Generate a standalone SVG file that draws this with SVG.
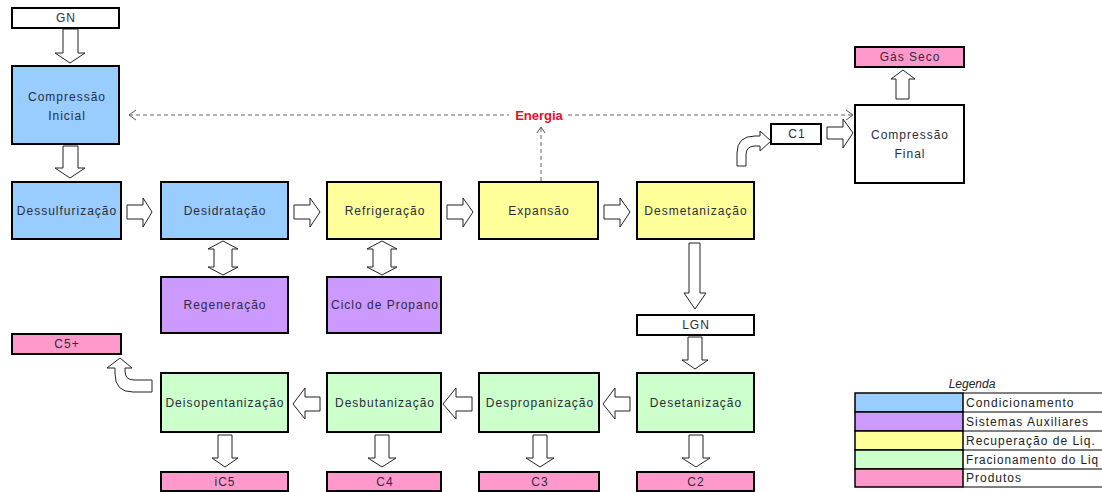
<svg xmlns="http://www.w3.org/2000/svg" width="1102" height="492" viewBox="0 0 1102 492">
<defs>
<style>
.box{stroke:#000;stroke-width:2}
.b{fill:#99CCFF}.p{fill:#CC99FF}.y{fill:#FFFF99}.g{fill:#CCFFCC}.k{fill:#FF99CC}.w{fill:#FFFFFF}
.t{font-family:"Liberation Sans",Arial,sans-serif;font-size:12px;letter-spacing:1px;fill:#2a2d3a;text-anchor:middle}
.lt{font-family:"Liberation Sans",Arial,sans-serif;font-size:12px;letter-spacing:1px;fill:#222}
.ar{fill:#fff;stroke:#222;stroke-width:1;stroke-linejoin:miter}
.dash{fill:none;stroke:#666;stroke-width:1;stroke-dasharray:4 3}
.chev{fill:none;stroke:#555;stroke-width:1}
</style>
</defs>
<rect width="1102" height="492" fill="#fff"/>

<g id="connectors">
  <path class="ar" d="M63,29 H78 V53 H85 L70,63 L55,53 H63 Z"/>
  <path class="ar" d="M63,146 H78 V168 H85 L70,178 L55,168 H63 Z"/>
  <path class="ar" d="M127,205 H143 V198 L152,212 L143,227 V219 H127 Z"/>
  <path class="ar" d="M294,205 H310 V198 L320,212 L310,227 V219 H294 Z"/>
  <path class="ar" d="M447,205 H463 V198 L473,212 L463,227 V219 H447 Z"/>
  <path class="ar" d="M604,205 H620 V198 L630,212 L620,227 V219 H604 Z"/>
  <path class="ar" d="M223,241 L238,249 H232 V267 H238 L223,275 L208,267 H214 V249 H208 Z"/>
  <path class="ar" d="M382,241 L397,249 H391 V267 H397 L382,275 L367,267 H373 V249 H367 Z"/>
  <path class="ar" d="M689,243 H700 V293 H706 L695,309 L684,293 H689 Z"/>
  <path class="ar" d="M688,337 H702 V360 H708 L695,369 L682,360 H688 Z"/>
  <path class="ar" d="M630,397 H615 V388 L603,404 L615,419 V411 H630 Z"/>
  <path class="ar" d="M472,397 H456 V388 L443,404 L456,419 V411 H472 Z"/>
  <path class="ar" d="M320,397 H305 V388 L293,404 L305,419 V411 H320 Z"/>
  <path class="ar" d="M218,435 H232 V458 H238 L225,467 L212,458 H218 Z"/>
  <path class="ar" d="M375,435 H389 V458 H396 L382,467 L368,458 H375 Z"/>
  <path class="ar" d="M533,435 H547 V458 H554 L540,467 L526,458 H533 Z"/>
  <path class="ar" d="M689,435 H703 V458 H710 L696,467 L682,458 H689 Z"/>
  <path class="ar" d="M152,380 H134 Q125,380 125,371 V368 H132 L120,358 L107,368 H115 V374 Q115,392 133,392 H152 Z"/>
  <path class="ar" d="M737,166 V153 Q737,136 755,136 H760 V131 L771,141 L760,151 V146 H755 Q746,146 746,155 V166 Z"/>
  <path class="ar" d="M827,127 H843 V119 L853,133 L843,148 V139 H827 Z"/>
  <path class="ar" d="M896,99 V79 H891 L903,70 L915,79 H909 V99 Z"/>
  <path class="dash" d="M129,115 H509 M568,115 H852"/>
  <path class="chev" d="M136,110 L129,115 L136,120"/>
  <path class="chev" d="M846,110 L853,115 L846,120"/>
  <path class="dash" d="M541,181 V128"/>
  <path class="chev" d="M537,133 L541,127 L545,133"/>
  <text x="539" y="120" font-family="Liberation Sans,Arial,sans-serif" font-size="13" font-weight="bold" fill="#E0102A" text-anchor="middle">Energia</text>
</g>

<g id="n-gn"><rect class="box w" x="12" y="8" width="107" height="20" stroke-width="1.5"/><text class="t" x="66" y="22">GN</text></g>
<g id="n-compini"><rect class="box b" x="12" y="66" width="107" height="78"/><text class="t" x="67" y="101">Compressão</text><text class="t" x="67" y="120">Inicial</text></g>
<g id="n-dessulf"><rect class="box b" x="12" y="182" width="109" height="57"/><text class="t" x="67" y="215">Dessulfurização</text></g>
<g id="n-desid"><rect class="box b" x="161" y="182" width="127" height="57"/><text class="t" x="225" y="215">Desidratação</text></g>
<g id="n-refrig"><rect class="box y" x="327" y="182" width="114" height="57"/><text class="t" x="385" y="215">Refrigeração</text></g>
<g id="n-expan"><rect class="box y" x="479" y="182" width="119" height="57"/><text class="t" x="539" y="215">Expansão</text></g>
<g id="n-desmet"><rect class="box y" x="637" y="182" width="117" height="57"/><text class="t" x="696" y="215">Desmetanização</text></g>
<g id="n-regen"><rect class="box p" x="161" y="277" width="127" height="56"/><text class="t" x="225" y="309">Regeneração</text></g>
<g id="n-ciclo"><rect class="box p" x="327" y="277" width="114" height="56"/><text class="t" x="385" y="309">Ciclo de Propano</text></g>
<g id="n-lgn"><rect class="box w" x="637" y="315" width="117" height="20" stroke-width="1.5"/><text class="t" x="696" y="329">LGN</text></g>
<g id="n-c1"><rect class="box w" x="771" y="124" width="50" height="20" stroke-width="1.5"/><text class="t" x="797" y="138">C1</text></g>
<g id="n-compfin"><rect class="box w" x="855" y="105" width="109" height="78"/><text class="t" x="910" y="139">Compressão</text><text class="t" x="910" y="158">Final</text></g>
<g id="n-gasseco"><rect class="box k" x="855" y="47" width="109" height="20"/><text class="t" x="910" y="61">Gás Seco</text></g>
<g id="n-c5p"><rect class="box k" x="12" y="334" width="109" height="20"/><text class="t" x="67" y="348">C5+</text></g>
<g id="n-deisop"><rect class="box g" x="161" y="373" width="127" height="59"/><text class="t" x="225" y="407">Deisopentanização</text></g>
<g id="n-desbut"><rect class="box g" x="327" y="373" width="114" height="59"/><text class="t" x="385" y="407">Desbutanização</text></g>
<g id="n-desprop"><rect class="box g" x="479" y="373" width="120" height="59"/><text class="t" x="540" y="407">Despropanização</text></g>
<g id="n-deset"><rect class="box g" x="637" y="373" width="117" height="59"/><text class="t" x="696" y="407">Desetanização</text></g>
<g id="n-ic5"><rect class="box k" x="161" y="472" width="127" height="19"/><text class="t" x="225" y="486">iC5</text></g>
<g id="n-c4"><rect class="box k" x="327" y="472" width="114" height="19"/><text class="t" x="385" y="486">C4</text></g>
<g id="n-c3"><rect class="box k" x="479" y="472" width="120" height="19"/><text class="t" x="540" y="486">C3</text></g>
<g id="n-c2"><rect class="box k" x="637" y="472" width="117" height="19"/><text class="t" x="696" y="486">C2</text></g>

<g id="legend">
  <text x="972" y="388" font-family="Liberation Sans,Arial,sans-serif" font-size="12" font-style="italic" fill="#222" text-anchor="middle">Legenda</text>
  <rect class="b" x="855" y="393" width="108" height="19" stroke="#000" stroke-width="1.5"/>
  <rect class="p" x="855" y="412" width="108" height="19" stroke="#000" stroke-width="1.5"/>
  <rect class="y" x="855" y="431" width="108" height="19" stroke="#000" stroke-width="1.5"/>
  <rect class="g" x="855" y="450" width="108" height="19" stroke="#000" stroke-width="1.5"/>
  <rect class="k" x="855" y="469" width="108" height="18" stroke="#000" stroke-width="1.5"/>
  <path d="M963,393 H1102 M963,412 H1102 M963,431 H1102 M963,450 H1102 M963,469 H1102 M963,487 H1102" stroke="#000" stroke-width="1"/>
  <text class="lt" x="966" y="407">Condicionamento</text>
  <text class="lt" x="966" y="426">Sistemas Auxiliares</text>
  <text class="lt" x="966" y="445">Recuperação de Liq.</text>
  <text class="lt" x="966" y="464" textLength="133" lengthAdjust="spacingAndGlyphs">Fracionamento do Liq</text>
  <text class="lt" x="966" y="482">Produtos</text>
</g>
</svg>
